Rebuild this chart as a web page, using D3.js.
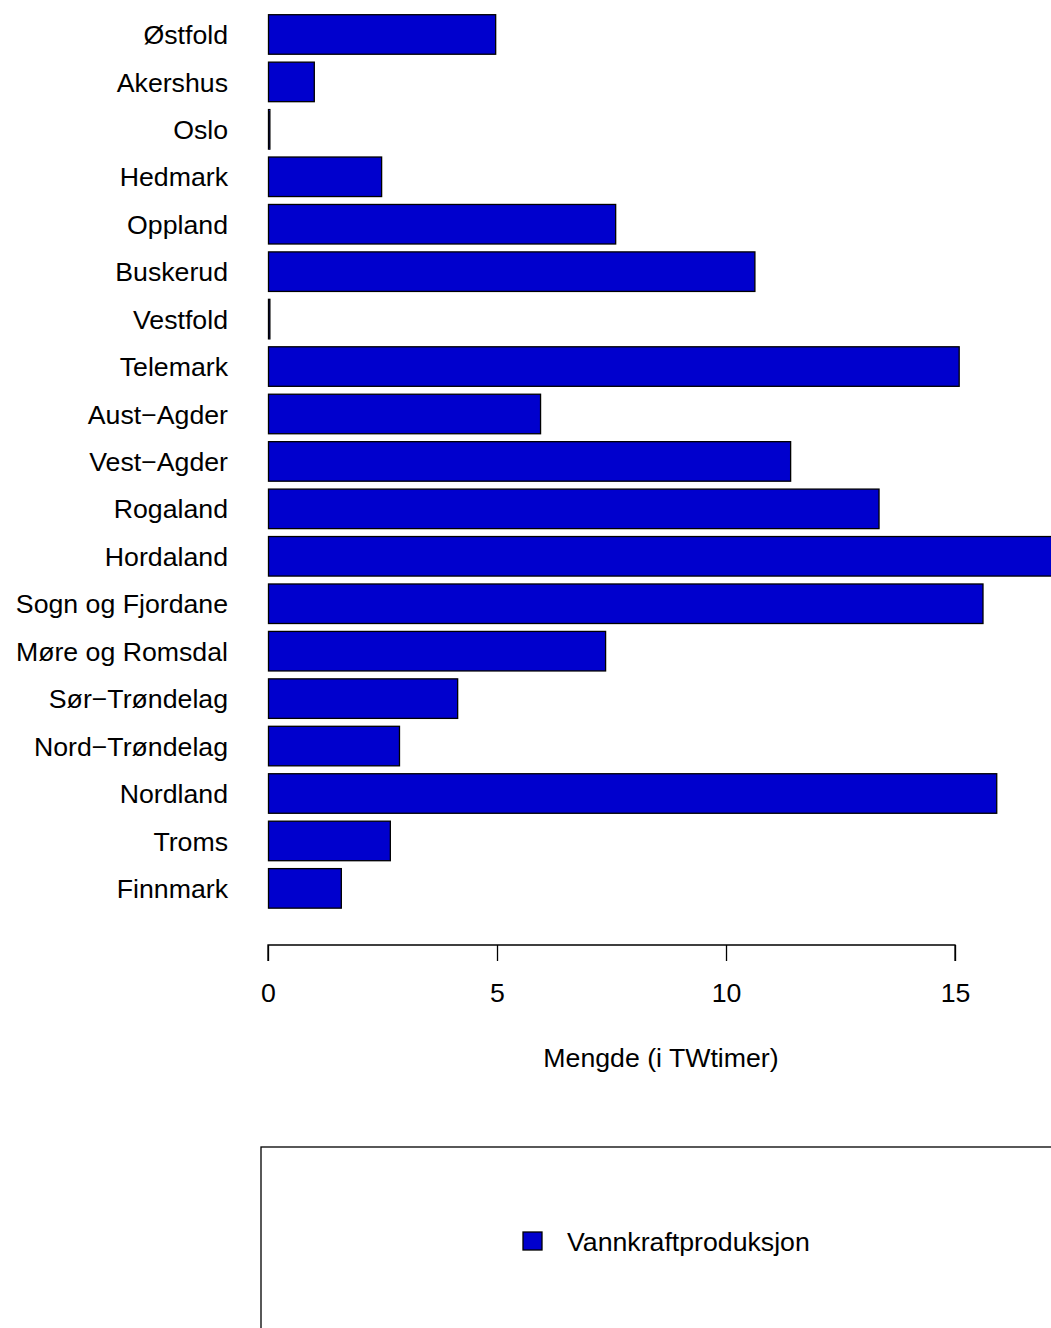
<!DOCTYPE html>
<html><head><meta charset="utf-8">
<script src="https://cdn.jsdelivr.net/npm/d3@7"></script>
<style>body{margin:0;background:#fff}svg{display:block}text{font-family:"Liberation Sans",Arial,sans-serif}</style>
</head><body>
<script>
const categories = ["Østfold","Akershus","Oslo","Hedmark","Oppland","Buskerud","Vestfold","Telemark","Aust−Agder","Vest−Agder","Rogaland","Hordaland","Sogn og Fjordane","Møre og Romsdal","Sør−Trøndelag","Nord−Trøndelag","Nordland","Troms","Finnmark"];
const values = [4.96, 1.0, 0.03, 2.47, 7.58, 10.62, 0.03, 15.08, 5.94, 11.4, 13.33, 18.3, 15.6, 7.36, 4.13, 2.86, 15.9, 2.66, 1.59];
const xTicks = [0, 5, 10, 15];
const seriesName = "Vannkraftproduksjon";
const xTitle = "Mengde (i TWtimer)";

const W = 1051, H = 1328;
const svg = d3.select("body").append("svg").attr("width", W).attr("height", H);
const fs = 26.7;

const x = d3.scaleLinear().domain([0, 17.1]).range([268, 1051.2]);
const y = d3.scaleBand().domain(categories).range([10.75, 912.1]).paddingInner(1/6).paddingOuter(1/12);

svg.append("defs").append("clipPath").attr("id","clip")
  .append("rect").attr("x",0).attr("y",0).attr("width",W).attr("height",H);

svg.append("g").attr("clip-path","url(#clip)")
  .selectAll("rect").data(categories).join("rect")
  .attr("x", x(0)+0.5)
  .attr("y", d => y(d))
  .attr("width", (d,i) => Math.max(0, x(values[i]) - x(0)))
  .attr("height", y.bandwidth())
  .attr("fill", "#0000CD")
  .attr("stroke", "#000")
  .attr("stroke-width", 1.3);

svg.append("g").selectAll("text").data(categories).join("text")
  .attr("x", 228)
  .attr("y", d => y(d) + y.bandwidth()/2)
  .attr("dy", "0.36em")
  .attr("text-anchor", "end")
  .attr("font-size", fs)
  .attr("fill", "#000")
  .text(d => d);

const axis = d3.axisBottom(x).tickValues(xTicks).tickSize(16).tickPadding(22).tickFormat(d3.format("d"));
const ag = svg.append("g").attr("transform", "translate(0,945)").call(axis);
ag.select(".domain").attr("d", `M${x(0)},16V0H${x(15)}V16`).attr("stroke","#000").attr("stroke-width",1.3);
ag.selectAll(".tick line").attr("stroke","#000").attr("stroke-width",1.3);
ag.selectAll(".tick text").attr("font-size", fs).attr("fill","#000").attr("font-family",'"Liberation Sans",Arial,sans-serif');

svg.append("text").attr("x", 661).attr("y", 1067).attr("text-anchor","middle")
  .attr("font-size", fs).text(xTitle);

// legend
svg.append("rect").attr("x", 261).attr("y", 1147).attr("width", 900).attr("height", 300)
  .attr("fill","none").attr("stroke","#000").attr("stroke-width",1.3);
svg.append("rect").attr("x", 523).attr("y", 1232).attr("width", 19).attr("height", 18)
  .attr("fill","#0000CD").attr("stroke","#000").attr("stroke-width",1.3);
svg.append("text").attr("x", 567).attr("y", 1241).attr("dy","0.36em")
  .attr("font-size", fs).text(seriesName);
</script>
</body></html>
